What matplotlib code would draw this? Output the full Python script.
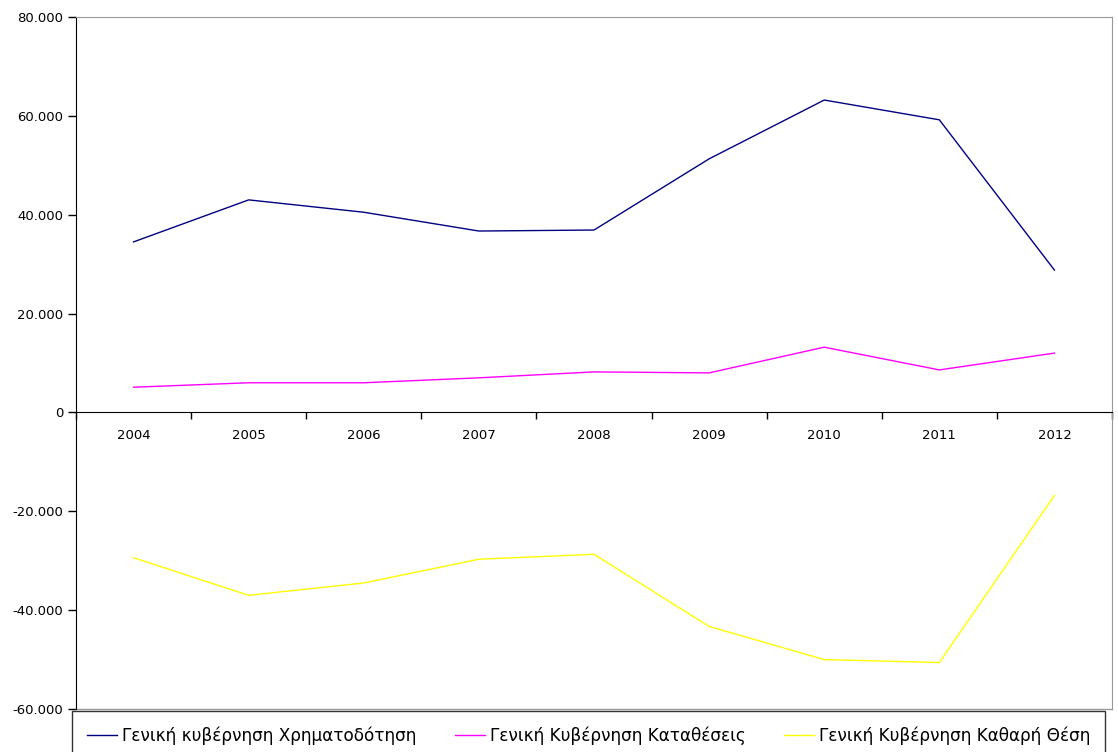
import matplotlib.pyplot as plt
from matplotlib.ticker import FuncFormatter, FixedLocator

years = ["2004", "2005", "2006", "2007", "2008", "2009", "2010", "2011", "2012"]
financing = [34500, 43000, 40500, 36700, 36900, 51300, 63200, 59200, 28800]
deposits = [5100, 6000, 6000, 7000, 8200, 8000, 13200, 8600, 12000]
net_position = [-29400, -37000, -34500, -29700, -28700, -43300, -50000, -50600, -16800]

series_names = [
    "Γενική κυβέρνηση Χρηματοδότηση",
    "Γενική Κυβέρνηση Καταθέσεις",
    "Γενική Κυβέρνηση Καθαρή Θέση",
]
series_colors = ["#000080", "#FF00FF", "#FFFF00"]

plt.rcParams["font.family"] = ["DejaVu Sans"]

fig = plt.figure(figsize=(11.18, 7.52), dpi=100)
ax = fig.add_axes([76 / 1118, 1 - 709 / 752, (1112 - 76) / 1118, (709 - 17) / 752])

x = list(range(len(years)))
for vals, name, col in zip([financing, deposits, net_position], series_names, series_colors):
    ax.plot(x, vals, color=col, linewidth=1.0, label=name)

ax.set_xlim(-0.5, len(years) - 0.5)
ax.set_ylim(-60000, 80000)
ax.set_yticks(range(-60000, 80001, 20000))
ax.yaxis.set_major_formatter(FuncFormatter(lambda v, p: f"{v:,.0f}".replace(",", ".")))

# category boundaries as ticks, labels centred under each category
ax.xaxis.set_major_locator(FixedLocator([i - 0.5 for i in range(len(years) + 1)]))
ax.xaxis.set_major_formatter(FuncFormatter(lambda v, p: ""))
ax.xaxis.set_minor_locator(FixedLocator(x))
ax.set_xticklabels(years, minor=True)
ax.tick_params(axis="x", which="major", direction="out", length=5, width=1, color="black")
ax.tick_params(axis="x", which="minor", length=0, pad=12, labelsize=9.5)
ax.tick_params(axis="y", direction="out", length=6, width=1, pad=3, labelsize=9.5)

ax.spines["bottom"].set_position(("data", 0))
ax.spines["bottom"].set_color("black")
ax.spines["left"].set_color("black")
for s in ["top", "right"]:
    ax.spines[s].set_color("#999999")
ax.plot([0, 1], [0, 0], transform=ax.transAxes, color="#999999", linewidth=1, clip_on=False)

leg = ax.legend(
    loc="upper left",
    bbox_to_anchor=(72 / 1118, 1 - 711 / 752),
    bbox_transform=fig.transFigure,
    ncol=3,
    fontsize=12.2,
    frameon=True,
    fancybox=False,
    edgecolor="black",
    handlelength=1.77,
    handletextpad=0.3,
    columnspacing=2.25,
    borderpad=0.9,
    borderaxespad=0,
)
leg.get_frame().set_linewidth(1.0)

fig.savefig("out.png", dpi=100)
